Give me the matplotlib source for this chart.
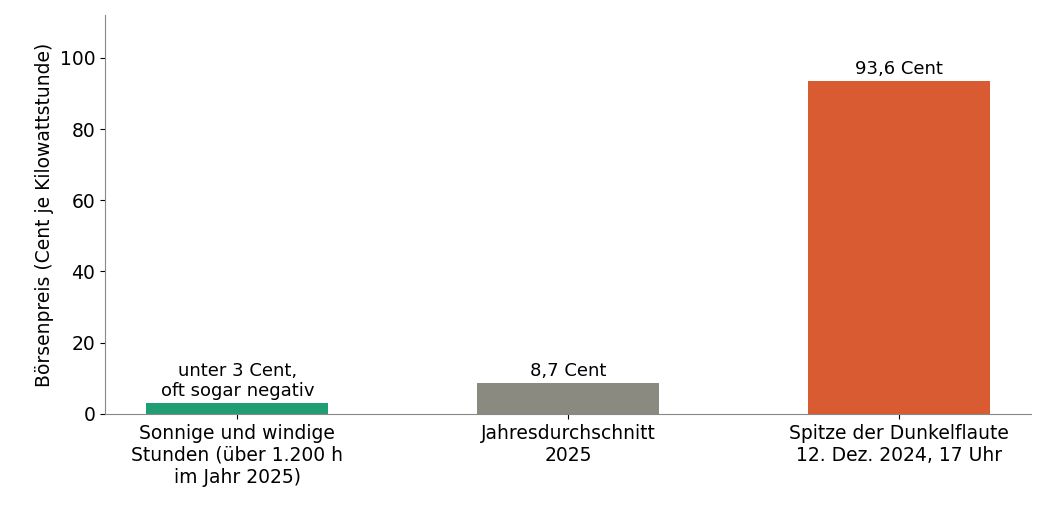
import matplotlib
matplotlib.use("Agg")
import matplotlib.pyplot as plt

categories = ["Sonnige und windige\nStunden (über 1.200 h\nim Jahr 2025)",
              "Jahresdurchschnitt\n2025",
              "Spitze der Dunkelflaute\n12. Dez. 2024, 17 Uhr"]
values = [3.0, 8.7, 93.6]
labels = ["unter 3 Cent,\noft sogar negativ", "8,7 Cent", "93,6 Cent"]
colors = ["#1f9e74", "#8a8a80", "#d95b32"]

fig = plt.figure(figsize=(10.47, 5.2), dpi=100)
ax = fig.add_axes([0.1003, 0.204, 0.8844, 0.767])
x = range(len(values))
bars = ax.bar(x, values, width=0.55, color=colors)
for b, v, l in zip(bars, values, labels):
    ax.text(b.get_x() + b.get_width() / 2, v + 0.8, l, ha="center", va="bottom", fontsize=13)
ax.set_xticks(list(x))
ax.set_xticklabels(categories, fontsize=13.5)
ax.tick_params(axis="y", labelsize=13.5)
ax.set_xlim(-0.4, 2.4)
ax.set_ylim(0, 112)
ax.set_yticks([0, 20, 40, 60, 80, 100])
ax.set_ylabel("Börsenpreis (Cent je Kilowattstunde)", fontsize=13.5)
for s in ["top", "right"]:
    ax.spines[s].set_visible(False)
for s in ["left", "bottom"]:
    ax.spines[s].set_color("#888888")
fig.savefig("out.png", dpi=100)
